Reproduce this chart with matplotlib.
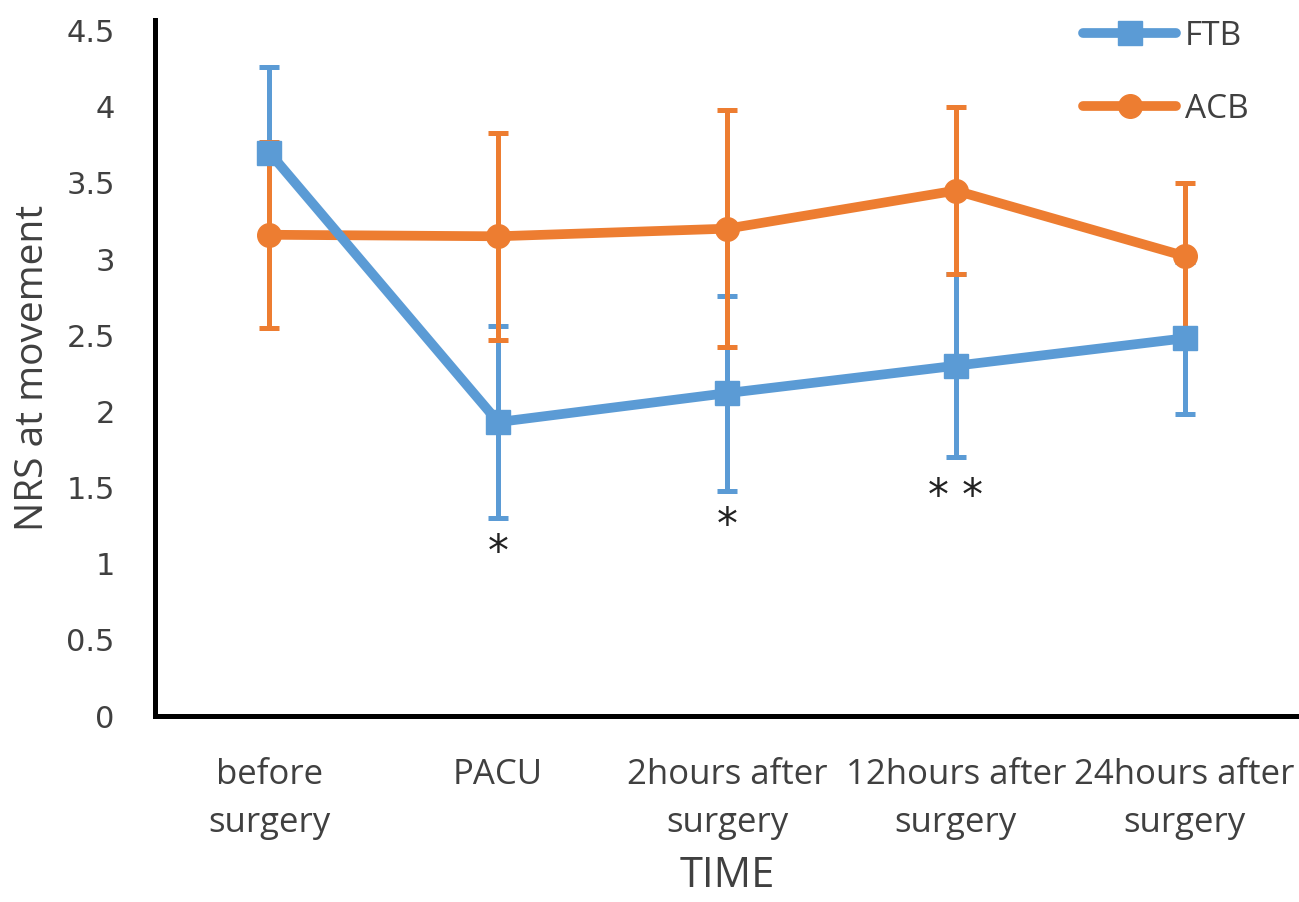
import matplotlib.pyplot as plt
import numpy as np

# NRS at movement, mean and SD per time point
times = ["before\nsurgery", "PACU", "2hours after\nsurgery",
         "12hours after\nsurgery", "24hours after\nsurgery"]
ftb_mean = [3.70, 1.93, 2.12, 2.30, 2.48]
ftb_sd = [0.56, 0.63, 0.64, 0.60, 0.50]
acb_mean = [3.16, 3.15, 3.20, 3.45, 3.02]
acb_sd = [0.61, 0.68, 0.78, 0.55, 0.48]
# significance marks: (time index, y position, text)
stars = [(1, 1.07, "*"), (2, 1.25, "*"), (3, 1.44, "* *")]

blue = "#5B9BD5"
orange = "#ED7D31"

fig = plt.figure(figsize=(12.99, 9.02), dpi=100)
ax = fig.add_axes([0.1193, 0.2062, 0.8807, 0.7716])

x = np.arange(len(times))

ax.errorbar(x, ftb_mean, yerr=ftb_sd, fmt="none", ecolor=blue,
            elinewidth=3.6, capsize=7.5, capthick=3.6, zorder=2)
ax.errorbar(x, acb_mean, yerr=acb_sd, fmt="none", ecolor=orange,
            elinewidth=3.6, capsize=7.5, capthick=3.6, zorder=3)
acb_line, = ax.plot(x, acb_mean, color=orange, lw=7, marker="o", ms=17,
                    solid_capstyle="round", label="ACB", zorder=4)
ftb_line, = ax.plot(x, ftb_mean, color=blue, lw=7, marker="s", ms=17,
                    solid_capstyle="round", label="FTB", zorder=5)

for i, y, s in stars:
    ax.text(x[i], y, s, ha="center", va="center", fontsize=30,
            family="DejaVu Sans", color="#222222")

ax.set_xlim(-0.5, len(times) - 0.5)
ax.set_ylim(0, 4.57)
yt = np.arange(0, 4.51, 0.5)
ax.set_yticks(yt)
ax.set_yticklabels([f"{v:g}" for v in yt], fontsize=22, color="#404040",
                   family="DejaVu Sans")
ax.set_xticks(x)
ax.set_xticklabels(times, fontsize=25, color="#404040", family="Open Sans",
                   va="top", linespacing=1.55)
ax.tick_params(axis="both", length=0)
ax.tick_params(axis="x", pad=30)
ax.tick_params(axis="y", pad=29)

for side in ["top", "right"]:
    ax.spines[side].set_visible(False)
for side in ["left", "bottom"]:
    ax.spines[side].set_linewidth(3.6)
    ax.spines[side].set_color("black")

ax.set_ylabel("NRS at movement", fontsize=28, color="#404040",
              family=["Liberation Sans Narrow", "Open Sans"], labelpad=10)
ax.set_xlabel("TIME", fontsize=30, color="#404040", family="Open Sans",
              labelpad=11)

leg = fig.legend(handles=[ftb_line, acb_line], loc="upper right",
                 bbox_to_anchor=(0.984, 1.011), frameon=False, numpoints=1,
                 handlelength=2.8, labelspacing=1.2, handletextpad=0.25,
                 prop={"family": "Open Sans", "size": 24})
for t in leg.get_texts():
    t.set_color("#404040")

fig.savefig("out.png", dpi=100)
